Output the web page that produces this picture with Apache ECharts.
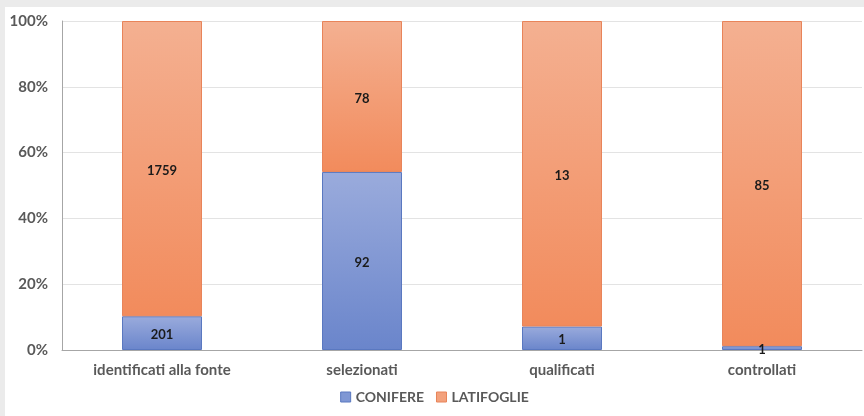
<!DOCTYPE html>
<html>
<head>
<meta charset="utf-8">
<script src="https://cdn.jsdelivr.net/npm/echarts@6/dist/echarts.min.js"></script>
<style>
  html, body { margin: 0; padding: 0; background: #ebebeb; }
  #chart { position: absolute; left: 5px; top: 7px; width: 859px; height: 409px; background: #ffffff; }
</style>
</head>
<body>
<div id="chart"></div>
<script>
const categories = ['identificati alla fonte', 'selezionati', 'qualificati', 'controllati']
const conifere = [201, 92, 1, 1]
const latifoglie = [1759, 78, 13, 85]
const yTicks = ['0%', '20%', '40%', '60%', '80%', '100%']

const totals = categories.map((c, i) => conifere[i] + latifoglie[i])

function toPercent(values) {
    return values.map((v, i) => ({ value: v / totals[i] * 100, raw: v }))
}

function grad(top, bottom) {
    return new echarts.graphic.LinearGradient(0, 0, 0, 1, [
        { offset: 0, color: top },
        { offset: 1, color: bottom }
    ])
}

const font = 'Lato, "Open Sans", sans-serif'

let myChart = echarts.init(document.getElementById('chart'))

const labelStyle = {
    show: true,
    position: 'inside',
    offset: [0, 2],
    color: '#1a1a1a',
    fontFamily: font,
    fontWeight: 'bold',
    fontSize: 13,
    formatter: p => p.data.raw
}

let option = {
    animation: false,
    grid: { left: 57, right: 2, top: 14, bottom: 66 },
    legend: {
        bottom: 7,
        left: 'center',
        itemWidth: 10,
        itemHeight: 10,
        itemGap: 12,
        textStyle: { color: '#595959', fontFamily: font, fontWeight: 'bold', fontSize: 14 },
        data: [
            { name: 'CONIFERE', icon: 'rect', itemStyle: { color: '#7f97d4', borderColor: '#5a78c0', borderWidth: 1 } },
            { name: 'LATIFOGLIE', icon: 'rect', itemStyle: { color: '#f3a17c', borderColor: '#e8845a', borderWidth: 1 } }
        ]
    },
    xAxis: {
        type: 'category',
        data: categories,
        axisLine: { lineStyle: { color: '#a6a6a6', width: 1 } },
        axisTick: { show: false },
        axisLabel: { color: '#595959', fontFamily: font, fontWeight: 'bold', fontSize: 15, margin: 13 }
    },
    yAxis: {
        type: 'value',
        min: 0,
        max: 100,
        interval: 20,
        axisLine: { show: true, lineStyle: { color: '#a6a6a6' } },
        axisTick: { show: false },
        splitLine: { lineStyle: { color: '#e3e3e3' } },
        axisLabel: {
            color: '#595959', fontFamily: font, fontWeight: 'bold', fontSize: 15, margin: 14,
            formatter: v => yTicks[Math.round(v / 20)]
        }
    },
    series: [
        {
            name: 'CONIFERE',
            type: 'bar',
            stack: 'tot',
            barWidth: '40%',
            data: toPercent(conifere),
            itemStyle: { color: grad('#9aabdc', '#6a85cb'), borderColor: '#5a78c0', borderWidth: 1 },
            label: labelStyle
        },
        {
            name: 'LATIFOGLIE',
            type: 'bar',
            stack: 'tot',
            barWidth: '40%',
            data: toPercent(latifoglie),
            itemStyle: { color: grad('#f4b091', '#f28b5c'), borderColor: '#e8845a', borderWidth: 1 },
            label: labelStyle
        }
    ]
}

myChart.setOption(option)
</script>
</body>
</html>
